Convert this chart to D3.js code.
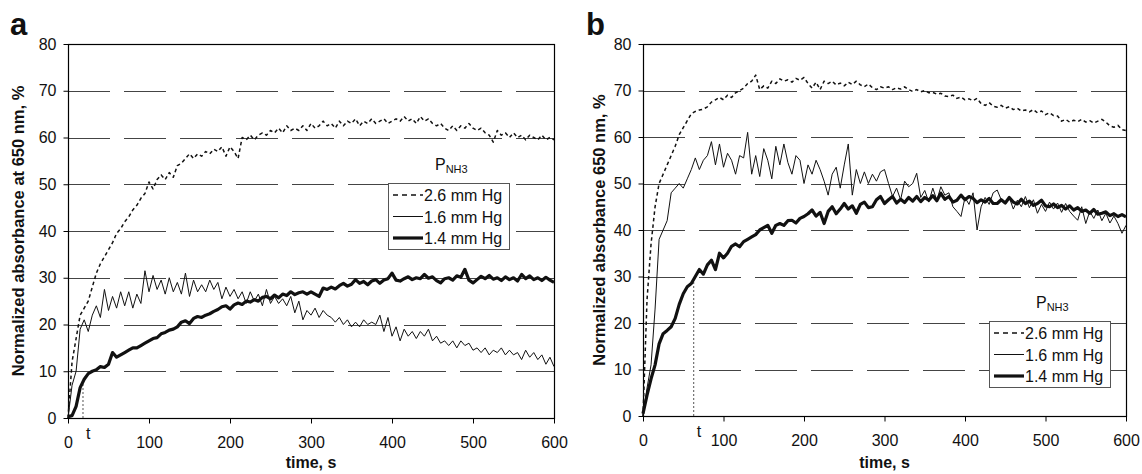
<!DOCTYPE html>
<html>
<head>
<meta charset="utf-8">
<script src="https://cdn.jsdelivr.net/npm/d3@7"></script>
<style>
  body { margin: 0; background: #fff; }
  svg { font-family: "Liberation Sans", Arial, sans-serif; }
</style>
</head>
<body>
<div id="main"></div>
<script>
// sampling times (s), every 5 s
const time = d3.range(0, 601, 5);

const yTicks = [0, 10, 20, 30, 40, 50, 60, 70, 80];
const xTicks = [0, 100, 200, 300, 400, 500, 600];
const gridVals = [10, 20, 30, 40, 50, 60, 70];
const legendLabels = ["2.6 mm Hg", "1.6 mm Hg", "1.4 mm Hg"];

// panel a
const a26 = [
  0, 12, 17, 22, 23.5, 25, 28, 31, 33, 34.5,
  36, 37.5, 39.5, 40.5, 42, 43, 44.5, 45.5, 47, 48,
  50.5, 49, 51, 52, 51, 52.5, 51.5, 54, 54.5, 55.5,
  56.5, 55.5, 56.5, 56, 57, 56.5, 57.5, 57, 58, 56,
  58, 57, 55.5, 60, 59.5, 60.5, 59.5, 60.5, 61, 60.5,
  61.5, 61, 62, 61, 62.5, 61.5, 62, 61.5, 62.5, 61.5,
  63, 62, 62.5, 63.5, 62.5, 63, 62, 63.5, 62.5, 63.5,
  63, 64, 62.5, 63.5, 63, 64, 63, 63.5, 64, 63,
  63.5, 64, 63.5, 64.5, 63.5, 64, 63, 64.5, 63.5, 64,
  63, 62.5, 63, 62, 61.5, 62.5, 61.5, 62.5, 62, 63,
  62, 61.5, 62, 61, 60.5, 59, 61.5, 60.5, 61, 60,
  61, 60, 60.5, 59.5, 60.5, 60, 59.5, 60.5, 59.5, 60,
  59.5
];
const a16 = [
  0, 7, 10, 19, 21, 18.5, 22, 24, 21.5, 27.5,
  23, 26, 23.5, 27, 24, 27, 23.5, 26.5, 24.5, 31.5,
  27, 30.5, 27.5, 29.5, 26.5, 30, 27, 29, 26.5, 31,
  26, 29.5, 27, 28.5, 27, 29.5, 27.5, 29, 25.5, 28,
  26, 27.5, 25.5, 27, 24.5, 27, 25, 26.5, 24, 27.5,
  24.5, 26, 24.5, 25.5, 24, 26, 22.5, 25, 21, 23,
  22, 23.5, 21.5, 23, 22, 21.5, 20.5, 21.5, 20, 21,
  19.5, 20.5, 19.5, 21, 20, 20.5, 20, 22, 18.5, 21.5,
  17.5, 19.5, 16.5, 19, 17.5, 18.5, 17, 18.5, 17.5, 19,
  16.5, 17.5, 16, 16.5, 15.5, 16.5, 15, 16.5, 15.5, 16,
  14.5, 15, 14, 15, 13.5, 14.5, 14, 15, 13.5, 14.5,
  13.5, 14, 12.5, 14.5, 13, 14, 12.5, 13.5, 11.5, 13,
  11
];
const a14 = [
  0.3, 0.5, 2.5, 6.5, 8.3, 9.5, 10, 10.3, 11, 10.8,
  11.5, 14, 13, 13.5, 14, 14.5, 15, 15, 15.5, 16,
  16.5, 17, 17.2, 18, 18.3, 18.8, 19, 19.5, 20.5, 20.8,
  20.2, 21.3, 21.7, 21.5, 22, 22.3, 22.8, 23.2, 23.8, 24,
  23.3, 24.2, 24.6, 24.3, 25, 24.8, 25.3, 25, 25.8, 26,
  25.5, 26.3, 25.7, 26.5, 26.2, 27, 26.4, 26.8, 27, 26.5,
  27, 26.5, 26, 27.8, 27.5, 28, 27.6, 28.3, 28.8, 28.2,
  28.6, 29.6, 28.8, 29.2, 28.5, 29.3, 29.6, 28.8, 29.5, 29.8,
  31, 29.5, 29.3, 29.8, 30.2, 29.6, 30, 29.8, 30.7, 29.9,
  30.2, 29.4, 28.9, 29.8, 30, 29.5, 30.4, 30.1, 31.8, 29.5,
  28.9, 29.6, 30.3, 29.8, 30.5, 29.7, 30, 29.4, 30.2, 29.6,
  30, 29.3, 30.7, 29.8, 30.4, 29.6, 30, 29.4, 30.1, 29.5,
  29
];

// panel b
const b26 = [
  0, 25, 37, 45, 50, 52, 54, 56, 58, 60.5,
  62, 63.5, 65, 65.5, 65.8, 66, 66.5, 67.5, 68, 68.5,
  68, 69, 68.5, 69.5, 70, 70.5, 71.5, 72, 73.3, 70.2,
  71, 70.5, 72, 71.5, 72.5, 72, 72.3, 71.8, 72.6, 72.2,
  72.8, 71.5, 70.5, 71.8, 70.2, 72, 71.5, 72, 71.2, 71.6,
  71, 71.8, 71.3, 72, 71.2, 70.8, 71.4, 70.6, 70.2, 70.8,
  70.5, 70.8, 70.2, 70.6, 70.3, 70.8, 70.2, 69.8, 70.2, 69.7,
  70, 69.5, 69.6, 69.2, 69.4, 68.8, 68.7, 69, 68.3, 68.6,
  68, 68.2, 67.8, 68.3, 67.2, 66.8, 67.4, 66.6, 66.4, 66.8,
  66.2, 66.5, 65.9, 66.2, 65.6, 65.8, 65.4, 65.9, 65.2, 65.6,
  64.8, 65.2, 64.6, 64.5, 63.4, 63.8, 63.2, 63.6, 63.3, 63.8,
  63.2, 63.5, 63, 63.4, 63.8, 63.2, 62.4, 62.1, 62.5, 61.6,
  61.4
];
const b16 = [
  0, 6, 11, 23, 38, 40, 42, 48, 49, 50,
  49, 51, 53, 55.5, 53, 55, 56, 59, 54, 58.5,
  53.5, 56.5, 55, 52, 56, 55.5, 61, 52, 56, 51.5,
  57.5, 55, 51, 58, 54, 58.5, 54.5, 52, 56, 55,
  50, 54, 52, 55, 53, 50.5, 47.5, 52, 53.5, 49,
  54, 58.5, 47.5, 53, 50, 52.5, 50, 52, 50.5, 52.5,
  53, 50, 47.2, 49, 46.5, 50.5, 49.3, 50, 52.2, 47,
  48.5, 46, 49, 46.4, 49.3, 47.5, 48, 45, 44, 42.9,
  47, 45.5, 48, 40, 45, 47, 45.5, 48, 48.6, 46.5,
  45.7, 47, 44.5, 46.4, 45, 47.2, 44.8, 46.5, 43.6, 45.5,
  44, 46, 44.5, 45.8, 43.8, 45.7, 44, 43, 42.1, 45,
  41.4, 44, 42.5, 44.3, 42, 43.6, 41.5, 43, 41.4, 39.3,
  41
];
const b14 = [
  0.5, 4.5, 8, 11, 15.5, 17.7, 18.4, 19.2, 21, 24,
  26.3, 27.8, 28.5, 30, 31.5, 30.5, 32.5, 33.5, 31.5, 35,
  34, 35, 36.5, 37, 36.4, 37.5, 38, 38.5, 39, 40,
  40.5, 41, 39.3, 41, 41.4, 41, 42, 42.1, 41.5, 42.5,
  42.9, 43.5, 44.3, 43, 43.8, 41.4, 44, 45, 43.5, 44.5,
  45.7, 44.5, 45.2, 43.6, 45.5, 46, 44.8, 45, 46.5, 47.2,
  45.7, 46.5, 47.2, 45.8, 46.6, 45.9, 47, 46.2, 47.2, 46.1,
  47, 46.4, 47.4, 46.3, 47.9, 46.6, 47.2, 46, 46.4, 47.5,
  46.5, 47.2, 46.8, 45.9, 46.5, 46, 46.8, 45.7, 45.7, 46.5,
  45.8, 47, 46, 45.6, 46.6, 45.7, 46.2, 45.3, 45.7, 46.4,
  45.2, 45, 45.6, 44.8, 45.3, 44.5, 45.2, 44.3, 44.8, 44,
  44.3, 43.6, 44.4, 43.4, 43.6, 43.9, 43.1, 43.5, 42.9, 43.3,
  42.8
];

// t markers (time, value where the dotted line stops)
const tMarkA = [18.5, 8];
const tMarkB = [63, 29];

const styles = [
  { w: 1.5, dash: "3.5,3" },
  { w: 1, dash: null },
  { w: 3.2, dash: null }
];

const svg = d3.select("#main").append("svg")
  .attr("width", 1142)
  .attr("height", 474);

const drawPanel = (cfg) => {
  const x = d3.scaleLinear().domain([0, 600]).range([cfg.left, cfg.right]);
  const y = d3.scaleLinear().domain([0, 80]).range([cfg.bottom, cfg.top]);
  const g = svg.append("g");

  // dashed grid
  g.selectAll(".grid")
  .data(gridVals)
  .enter()
  .append("line")
  .attr("x1", cfg.left)
  .attr("x2", cfg.right)
  .attr("y1", d => Math.round(y(d)) + 0.5)
  .attr("y2", d => Math.round(y(d)) + 0.5)
  .attr("stroke", "#444")
  .attr("stroke-width", 1)
  .attr("stroke-dasharray", "42,14");

  // frame
  g.append("rect")
  .attr("x", cfg.left + 0.5)
  .attr("y", cfg.top + 0.5)
  .attr("width", cfg.right - cfg.left)
  .attr("height", cfg.bottom - cfg.top)
  .attr("fill", "none")
  .attr("stroke", "#000")
  .attr("stroke-width", 1.2);

  // axes
  const ya = g.append("g")
  .attr("transform", `translate(${cfg.left + 0.5},0)`)
  .call(d3.axisLeft(y).tickValues(yTicks).tickSize(5).tickPadding(7).tickFormat(d3.format("d")));
  const xa = g.append("g")
  .attr("transform", `translate(0,${cfg.bottom + 0.5})`)
  .call(d3.axisBottom(x).tickValues(xTicks).tickSize(5).tickPadding(13).tickFormat(d3.format("d")));
  [ya, xa].forEach(a => {
    a.select(".domain").remove();
    a.selectAll("text").attr("font-size", 16).attr("fill", "#111")
      .attr("font-family", "'Liberation Sans', Arial, sans-serif");
    a.selectAll("line").attr("stroke", "#000");
  });

  // t marker
  g.append("line")
  .attr("x1", x(cfg.t[0])).attr("x2", x(cfg.t[0]))
  .attr("y1", y(0)).attr("y2", y(cfg.t[1]))
  .attr("stroke", "#555")
  .attr("stroke-width", 1)
  .attr("stroke-dasharray", "2,2");
  g.append("text")
  .attr("x", x(cfg.t[0]) + 3)
  .attr("y", y(0) + 21)
  .attr("font-size", 16)
  .attr("fill", "#111")
  .text("t");

  // series
  const line = d3.line()
    .x((d, i) => x(time[i]))
    .y(d => y(d));
  cfg.series.forEach((s, i) => {
    g.append("path")
    .datum(s)
    .attr("d", line)
    .attr("fill", "none")
    .attr("stroke", "#111")
    .attr("stroke-width", styles[i].w)
    .attr("stroke-linejoin", "round")
    .attr("stroke-dasharray", styles[i].dash);
  });

  // legend
  const lg = g.append("g").attr("transform", `translate(${cfg.leg[0]},${cfg.leg[1]})`);
  const ptxt = lg.append("text")
    .attr("x", 47)
    .attr("y", -13)
    .attr("font-size", 16)
    .attr("fill", "#111");
  ptxt.append("tspan").text("P");
  ptxt.append("tspan").attr("font-size", 11).attr("dy", 3).text("NH3");

  lg.append("rect")
  .attr("x", 0.5).attr("y", 0.5)
  .attr("width", 121).attr("height", 66)
  .attr("fill", "#fff")
  .attr("stroke", "#555")
  .attr("stroke-width", 1);

  legendLabels.forEach((lab, i) => {
    const cy = 12 + i * 21.5;
    lg.append("line")
    .attr("x1", 5).attr("x2", 35)
    .attr("y1", cy).attr("y2", cy)
    .attr("stroke", "#111")
    .attr("stroke-width", styles[i].w)
    .attr("stroke-dasharray", i === 0 ? "5,4" : null);
    lg.append("text")
    .attr("x", 36)
    .attr("y", cy + 6)
    .attr("font-size", 16)
    .attr("fill", "#111")
    .text(lab);
  });

  // labels
  g.append("text")
  .attr("x", (cfg.left + cfg.right) / 2)
  .attr("y", 468)
  .attr("text-anchor", "middle")
  .attr("font-size", 16)
  .attr("font-weight", "bold")
  .attr("fill", "#111")
  .text("time, s");

  g.append("text")
  .attr("transform", `translate(${cfg.ylabX},${(cfg.top + cfg.bottom) / 2}) rotate(-90)`)
  .attr("text-anchor", "middle")
  .attr("font-size", 16.5)
  .attr("font-weight", "bold")
  .attr("fill", "#111")
  .text(cfg.ylab);

  g.append("text")
  .attr("x", cfg.letter[0])
  .attr("y", cfg.letter[1])
  .attr("font-size", 31)
  .attr("font-weight", "bold")
  .attr("fill", "#111")
  .text(cfg.name);
};

drawPanel({
  name: "a", letter: [10, 35],
  left: 68, right: 554, top: 44, bottom: 418,
  series: [a26, a16, a14], t: tMarkA,
  leg: [388, 183],
  ylab: "Normalized absorbance at 650 nm, %", ylabX: 23.5
});

drawPanel({
  name: "b", letter: [586, 35],
  left: 643, right: 1126, top: 44, bottom: 416,
  series: [b26, b16, b14], t: tMarkB,
  leg: [989, 321],
  ylab: "Normalized absorbance 650 nm, %", ylabX: 605
});
</script>
</body>
</html>
